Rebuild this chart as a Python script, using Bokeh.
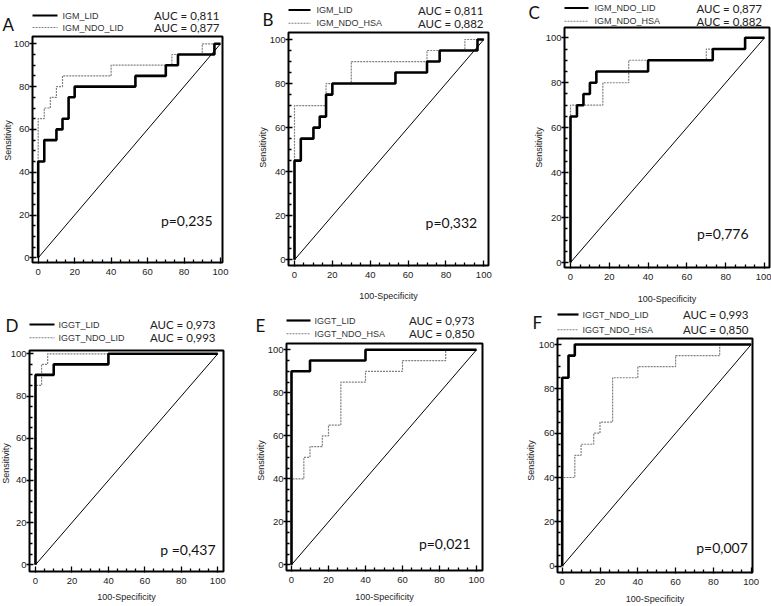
from bokeh.plotting import figure
from bokeh.models import Range1d, FixedTicker, Label, Arrow, LinearAxis
from bokeh.embed import file_html
from bokeh.resources import INLINE
import math

# ---------------- data (ROC operating points: 100-Specificity, Sensitivity) ----------------
IGM_LID_fpr = [0, 0, 3.33, 10, 13.33, 16.67, 20, 53.33, 70, 76.67, 96.67, 100]
IGM_LID_tpr = [0, 45, 55, 60, 65, 75, 80, 85, 90, 95, 100, 100]

IGM_NDO_LID_fpr = [0, 0, 3.33, 6.67, 10, 13.33, 40, 73.33, 90, 100]
IGM_NDO_LID_tpr = [0, 65, 70, 75, 80, 85, 90, 95, 100, 100]

IGM_NDO_HSA_fpr = [0, 0, 16.67, 30, 70, 90, 100]
IGM_NDO_HSA_tpr = [0, 70, 80, 90, 95, 100, 100]

IGGT_LID_fpr = [0, 0, 10, 40, 100]
IGGT_LID_tpr = [0, 90, 95, 100, 100]

IGGT_NDO_LID_fpr = [0, 0, 3.33, 6.67, 100]
IGGT_NDO_LID_tpr = [0, 85, 95, 100, 100]

IGGT_NDO_HSA_fpr = [0, 0, 6.67, 10, 16.67, 20, 26.67, 40, 60, 83.33, 100]
IGGT_NDO_HSA_tpr = [0, 40, 50, 55, 60, 65, 85, 90, 95, 100, 100]

curves = {
    "IGM_LID": (IGM_LID_fpr, IGM_LID_tpr),
    "IGM_NDO_LID": (IGM_NDO_LID_fpr, IGM_NDO_LID_tpr),
    "IGM_NDO_HSA": (IGM_NDO_HSA_fpr, IGM_NDO_HSA_tpr),
    "IGGT_LID": (IGGT_LID_fpr, IGGT_LID_tpr),
    "IGGT_NDO_LID": (IGGT_NDO_LID_fpr, IGGT_NDO_LID_tpr),
    "IGGT_NDO_HSA": (IGGT_NDO_HSA_fpr, IGGT_NDO_HSA_tpr),
}

panel_letters = ["A", "B", "C", "D", "E", "F"]
black_names = ["IGM_LID", "IGM_LID", "IGM_NDO_LID", "IGGT_LID", "IGGT_LID", "IGGT_NDO_LID"]
black_auc = ["0,811", "0,811", "0,877", "0,973", "0,973", "0,993"]
gray_names = ["IGM_NDO_LID", "IGM_NDO_HSA", "IGM_NDO_HSA", "IGGT_NDO_LID", "IGGT_NDO_HSA", "IGGT_NDO_HSA"]
gray_auc = ["0,877", "0,882", "0,882", "0,993", "0,850", "0,850"]
p_values = ["p=0,235", "p=0,332", "p=0,776", "p =0,437", "p=0,021", "p=0,007"]
x_titles = [None, "100-Specificity", "100-Specificity", "100-Specificity", "100-Specificity", "100-Specificity"]
y_title = "Sensitivity"

major_ticks = [0, 20, 40, 60, 80, 100]
minor_ticks = [5, 10, 15, 25, 30, 35, 45, 50, 55, 65, 70, 75, 85, 90, 95]
diag = [0, 100]

# ---------------- layout (page pixels) ----------------
PX0, PX1, PY0, PY1 = 0, 771, 0, 606
frames = [(32, 36, 222, 262), (288, 32, 488, 265), (564, 27, 769, 267),
          (29, 350, 223, 571), (286, 343, 482, 570), (557, 338, 752, 572)]
xpix = [(37.7, 220), (294, 483.3), (570, 764), (35, 217.3), (291, 476), (561.7, 750.7)]
ypix = [(257.3, 43.3), (259.3, 39), (262, 37.3), (564.3, 353.3), (564.3, 349.3), (565.7, 344)]
leg_sample = [(32, 57), (288, 310), (564, 588), (29, 54), (286, 310), (557, 578)]
leg_text_x = [62, 316, 594, 58, 314, 582]
leg_y = [(15, 27), (9.5, 22.7), (7.5, 20.7), (324, 337.3), (320, 333.3), (314, 329.3)]
auc_right = [219, 483, 761.5, 215, 474, 748]
letter_pos = [(2, 24), (262, 19), (528, 12), (5, 325), (255, 325), (532, 321.5)]
sens_pos = [(7, 140), (262, 147), (538, 147), (5, 463), (260, 460), (530, 460)]
xlab_y = [None, 295, 298.3, 596.7, 596.7, 598.5]
p_pos = [(212, 220), (476.7, 221.7), (748, 233.3), (215, 549.3), (470, 542.7), (747.3, 547.3)]

SANS = "'Liberation Sans Narrow', 'Liberation Sans', Arial, sans-serif"
CAL = "Lato"
GRAY_C = "#808080"

p = figure(width=PX1 - PX0, height=PY1 - PY0,
           x_range=Range1d(PX0, PX1), y_range=Range1d(PY1, PY0),
           x_axis_location=None, y_axis_location=None,
           output_backend="svg", toolbar_location=None,
           min_border=0)
p.min_border_left = 0
p.min_border_right = 0
p.min_border_top = 0
p.min_border_bottom = 0
p.grid.visible = False
p.outline_line_color = None
p.background_fill_color = "white"
p.border_fill_color = "white"


def lab(px, py, text, font, size, align="left", angle=0.0, color="#222222"):
    p.add_layout(Label(x=px, y=py, text=text, text_font=font, text_font_size=size,
                       text_align=align, text_baseline="middle", angle=angle,
                       text_color=color))


def sample(x0, x1, y, color, width, dash):
    p.add_layout(Arrow(end=None, x_start=x0, y_start=y, x_end=x1, y_end=y,
                       line_color=color, line_width=width, line_dash=dash))


for i in range(6):
    l, t, r, b = frames[i]
    x0p, x100p = xpix[i]
    y0p, y100p = ypix[i]
    xs = (x100p - x0p) / 100.0
    ys = (y0p - y100p) / 100.0
    xn, yn = "x%d" % i, "y%d" % i
    p.extra_x_ranges[xn] = Range1d((PX0 - x0p) / xs, (PX1 - x0p) / xs)
    p.extra_y_ranges[yn] = Range1d((y0p - PY1) / ys, (y0p - PY0) / ys)

    # box around plot area
    p.quad(left=[l], right=[r], top=[t], bottom=[b], fill_color="white",
           line_color="black", line_width=2, level="underlay")

    # axes fixed at the box edges
    yax = LinearAxis(x_range_name=xn, y_range_name=yn, fixed_location=(l - x0p) / xs)
    xax = LinearAxis(x_range_name=xn, y_range_name=yn, fixed_location=(y0p - b) / ys)
    for ax, tin, tout, std in ((yax, 4, 3, 0), (xax, 5, 1, 5)):
        ax.ticker = FixedTicker(ticks=major_ticks, minor_ticks=minor_ticks)
        ax.axis_line_color = None
        ax.major_tick_in = tin
        ax.major_tick_out = tout
        ax.minor_tick_in = 3
        ax.minor_tick_out = 0
        ax.major_tick_line_width = 1.3
        ax.minor_tick_line_width = 1.3
        ax.major_label_text_font = SANS
        ax.major_label_text_font_size = "9.5px"
        ax.major_label_text_color = "#222222"
        ax.major_label_standoff = std
    p.add_layout(yax, "left")
    p.add_layout(xax, "below")

    # diagonal reference line
    p.line(diag, diag, line_color="black", line_width=1, x_range_name=xn, y_range_name=yn)
    # gray curve
    gx, gy = curves[gray_names[i]]
    p.step(gx, gy, mode="after", line_color=GRAY_C, line_width=1.2, line_dash="2 1",
           x_range_name=xn, y_range_name=yn)
    # black curve
    bx, by = curves[black_names[i]]
    p.step(bx, by, mode="after", line_color="black", line_width=2.6,
           x_range_name=xn, y_range_name=yn)

    # header / legend
    s0, s1 = leg_sample[i]
    y1, y2 = leg_y[i]
    sample(s0, s1, y1, "black", 2.2, "solid")
    sample(s0, s1, y2, GRAY_C, 1.1, "2 1")
    lab(leg_text_x[i], y1, black_names[i], SANS, "9px", color="#333333")
    lab(leg_text_x[i], y2, gray_names[i], SANS, "9px", color="#333333")
    lab(auc_right[i], y1, "AUC = " + black_auc[i], CAL, "11.5px", align="right")
    lab(auc_right[i], y2, "AUC = " + gray_auc[i], CAL, "11.5px", align="right")
    lx, ly = letter_pos[i]
    lab(lx, ly, panel_letters[i], CAL, "17px", color="#111111")
    sx, sy = sens_pos[i]
    lab(sx, sy, y_title, SANS, "9px", align="center", angle=math.pi / 2)
    if x_titles[i] is not None:
        lab((l + r) / 2.0, xlab_y[i], x_titles[i], SANS, "9px", align="center")
    ppx, ppy = p_pos[i]
    lab(ppx, ppy, p_values[i], CAL, "14px", align="right", color="#111111")

open("out.html", "w").write(file_html(p, INLINE))
